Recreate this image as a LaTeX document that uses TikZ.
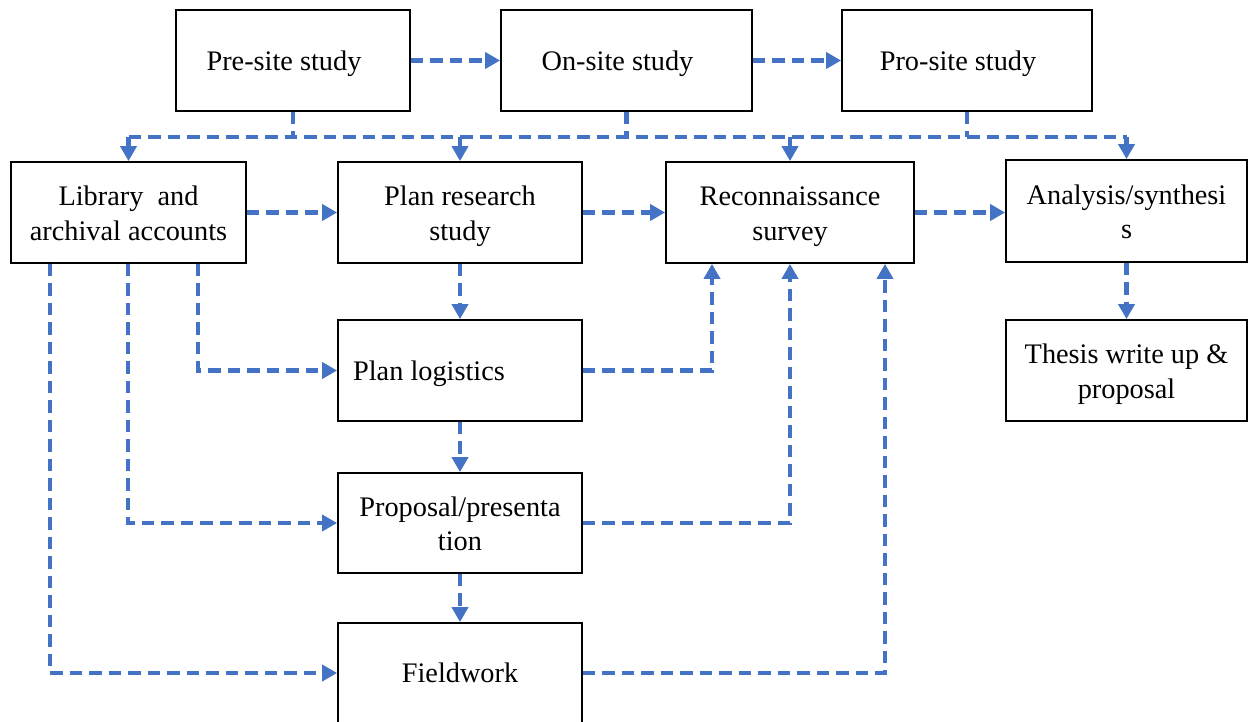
\documentclass[tikz,border=0pt]{standalone}
\usepackage{fontspec}
\setmainfont{Liberation Serif}
\usetikzlibrary{arrows.meta}
\definecolor{lineblue}{HTML}{4472C4}
\newcommand{\lowtxt}[2][3.5pt]{\raisebox{-#1}[\height][\depth]{#2}}
\newcommand{\twoline}[2]{\raisebox{-3.5pt}[\height][\depth]{\begin{tabular}{@{}c@{}}#1\\#2\end{tabular}}}
\begin{document}
\begin{tikzpicture}[x=1pt,y=-1pt,
  box/.style={draw=black,line width=1.8pt,fill=white,minimum height=101pt,inner sep=2pt,
    align=center,font=\fontsize{28.3}{34.5}\selectfont},
  conn/.style={draw=lineblue,line width=4.3pt,dash pattern=on 12.5pt off 7pt},
  arr/.style={conn,-{Triangle[length=15pt,width=16pt]}}]
\useasboundingbox (0,0) rectangle (1248,722);
\fill[white] (0,0) rectangle (1248,722);
% boxes
\node[box,minimum width=234pt] (pre) at (293,60.5) {\lowtxt{Pre-site study}\hspace*{18pt}};
\node[box,minimum width=251pt] (on) at (626.5,60.5) {\lowtxt{On-site study}\hspace*{18pt}};
\node[box,minimum width=250pt] (pro) at (967,60.5) {\lowtxt{Pro-site study}\hspace*{18pt}};
\node[box,minimum width=235pt] (lib) at (128.5,212.5) {\twoline{Library\ \ and}{archival\ accounts}};
\node[box,minimum width=244pt] (plan) at (460,212.5) {\twoline{Plan research}{study}};
\node[box,minimum width=248pt] (rec) at (790,212.5) {\twoline{Reconnaissance}{survey}};
\node[box,minimum width=241pt,minimum height=102pt] (ana) at (1126.5,211) {\twoline{Analysis/synthesi}{s}};
\node[box,minimum width=244pt] (log) at (460,370.5) {\lowtxt{Plan logistics}\hspace*{62pt}};
\node[box,minimum width=241pt] (thesis) at (1126.5,370.5) {\twoline{Thesis write up \&}{proposal}};
\node[box,minimum width=244pt,minimum height=100pt] (prop) at (460,523) {\twoline{Proposal/presenta}{tion}};
\node[box,minimum width=244pt,minimum height=100pt] (field) at (460,673) {Fieldwork};
% helper coordinates
\coordinate (bus) at (0,137);
\coordinate (x198) at (198,0);
\coordinate (x128) at (128,0);
\coordinate (x50) at (50,0);
\coordinate (x712) at (712,0);
\coordinate (x885) at (885,0);
% top row
\draw[arr] (pre.east) -- (on.west);
\draw[arr] (on.east) -- (pro.west);
% bus
\draw[conn] (pre.south) -- (pre.south |- bus);
\draw[conn] (on.south) -- (on.south |- bus);
\draw[conn] (pro.south) -- (pro.south |- bus);
\draw[conn] (lib.north |- bus) -- (ana.north |- bus);
\draw[arr] (lib.north |- bus) -- (lib.north);
\draw[arr] (plan.north |- bus) -- (plan.north);
\draw[arr] (rec.north |- bus) -- (rec.north);
\draw[arr] (ana.north |- bus) -- (ana.north);
% second row
\draw[arr] (lib.east) -- (plan.west);
\draw[arr] (plan.east) -- (rec.west);
\draw[arr] (rec.east) -- (rec.east -| ana.west);
\draw[arr] (ana.south) -- (thesis.north);
% middle column
\draw[arr] (plan.south) -- (log.north);
\draw[arr] (log.south) -- (prop.north);
\draw[arr] (prop.south) -- (field.north);
% from library
\draw[arr] (x198 |- lib.south) |- (log.west);
\draw[arr] (x128 |- lib.south) |- (prop.west);
\draw[arr] (x50 |- lib.south) |- (field.west);
% to reconnaissance
\draw[arr] (log.east) -| (x712 |- rec.south);
\draw[arr] (prop.east) -| (rec.south);
\draw[arr] (field.east) -| (x885 |- rec.south);
\end{tikzpicture}
\end{document}
